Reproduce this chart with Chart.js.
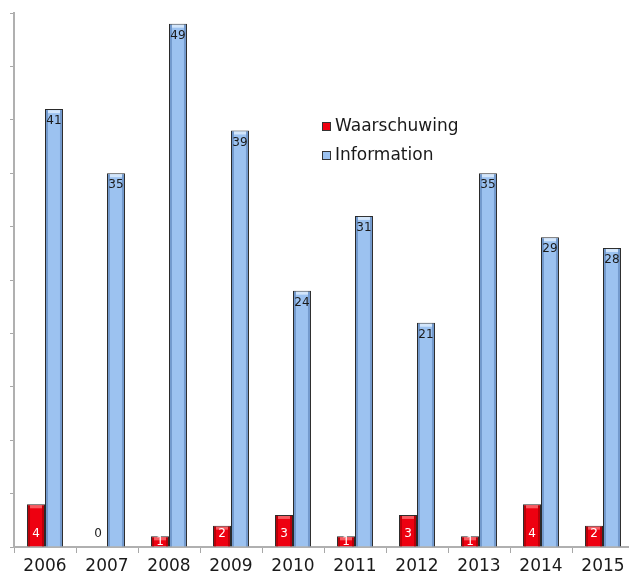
<!DOCTYPE html>
<html>
<head>
<meta charset="utf-8">
<script src="https://cdn.jsdelivr.net/npm/chart.js@4/dist/chart.umd.min.js"></script>
<style>
  html, body { margin: 0; padding: 0; background: #fff; overflow: hidden; }
  #wrap { position: relative; width: 640px; height: 577px; }
</style>
</head>
<body>
<div id="wrap"><canvas id="chart"></canvas></div>
<script>
// data
const years = ["2006", "2007", "2008", "2009", "2010", "2011", "2012", "2013", "2014", "2015"];
const waarschuwing = [4, 0, 1, 2, 3, 1, 3, 1, 4, 2];
const information = [41, 35, 49, 39, 24, 31, 21, 35, 29, 28];
const seriesNames = ["Waarschuwing", "Information"];
const yMax = 50;
const yStep = 5;

const FONT = "'DejaVu Sans', Verdana, sans-serif";
const shade = [
  { edge: 'rgba(120,0,0,0.45)', top: 'rgba(255,150,150,0.6)' },
  { edge: 'rgba(40,80,140,0.35)', top: 'rgba(235,245,255,0.7)' }
];

// a bit of shading on the bars, then the value labels
const barLabels = {
  id: 'barLabels',
  afterDatasetsDraw(chart) {
    const ctx = chart.ctx;
    ctx.save();
    chart.data.datasets.forEach((ds, i) => {
      chart.getDatasetMeta(i).data.forEach((bar) => {
        const h = bar.base - bar.y;
        if (h < 3) return;
        const l = bar.x - bar.width / 2 + 1, r = bar.x + bar.width / 2 - 1;
        ctx.fillStyle = shade[i].edge;
        ctx.fillRect(l, bar.y + 1, 2, h - 1);
        ctx.fillRect(r - 2, bar.y + 1, 2, h - 1);
        ctx.fillStyle = shade[i].top;
        ctx.fillRect(l + 2, bar.y + 1, r - l - 4, Math.min(3, h - 2));
      });
    });
    ctx.font = '12px ' + FONT;
    ctx.textAlign = 'center';
    ctx.textBaseline = 'middle';
    chart.data.datasets.forEach((ds, i) => {
      chart.getDatasetMeta(i).data.forEach((bar, j) => {
        const v = ds.data[j];
        if (i === 0) {
          ctx.fillStyle = v > 0 ? '#ffffff' : '#222222';
          const y = v > 0 ? Math.max(bar.base - 13, bar.y + 6) : bar.base - 13;
          ctx.fillText(String(v), bar.x, y);
        } else {
          ctx.fillStyle = '#1a1a1a';
          ctx.fillText(String(v), bar.x, bar.y + 12);
        }
      });
    });
    ctx.restore();
  }
};

// legend in the middle of the plot
const innerLegend = {
  id: 'innerLegend',
  afterDraw(chart) {
    const ctx = chart.ctx;
    ctx.save();
    ctx.font = '17px ' + FONT;
    ctx.textBaseline = 'middle';
    const x = 322, y0 = 127, gap = 29;
    chart.data.datasets.forEach((ds, i) => {
      const y = y0 + i * gap;
      ctx.fillStyle = ds.backgroundColor;
      ctx.fillRect(x, y - 5, 9, 9);
      ctx.strokeStyle = '#333';
      ctx.lineWidth = 1;
      ctx.strokeRect(x + 0.5, y - 4.5, 8, 8);
      ctx.fillStyle = '#1a1a1a';
      ctx.fillText(ds.label, x + 13, y);
    });
    ctx.restore();
  }
};

new Chart(document.getElementById('chart'), {
  type: 'bar',
  data: {
    labels: years,
    datasets: [
      { label: seriesNames[0], data: waarschuwing, backgroundColor: '#ee0010', borderColor: '#2a2a2a', borderWidth: 1 },
      { label: seriesNames[1], data: information, backgroundColor: '#9cc2f0', borderColor: '#2a2a2a', borderWidth: 1 }
    ]
  },
  options: {
    responsive: true,
    maintainAspectRatio: false,
    animation: false,
    datasets: { bar: { categoryPercentage: 0.58, barPercentage: 1.0 } },
    layout: { padding: { top: 13, right: 6, left: 0, bottom: 0 } },
    plugins: { legend: { display: false }, tooltip: { enabled: false } },
    scales: {
      x: {
        grid: { drawOnChartArea: false, color: '#a8a8a8', tickLength: 6, offset: true },
        border: { color: '#b0b0b0', width: 2 },
        ticks: { color: '#1a1a1a', font: { family: FONT, size: 17 }, padding: 3 },
        afterFit(scale) { scale.height = 30; }
      },
      y: {
        min: 0, max: yMax,
        grid: { drawOnChartArea: false, color: '#a8a8a8', tickLength: 4 },
        border: { color: '#b0b0b0', width: 2 },
        ticks: { stepSize: yStep, display: false },
        afterFit(scale) { scale.width = 14; }
      }
    }
  },
  plugins: [barLabels, innerLegend]
});
</script>
</body>
</html>
